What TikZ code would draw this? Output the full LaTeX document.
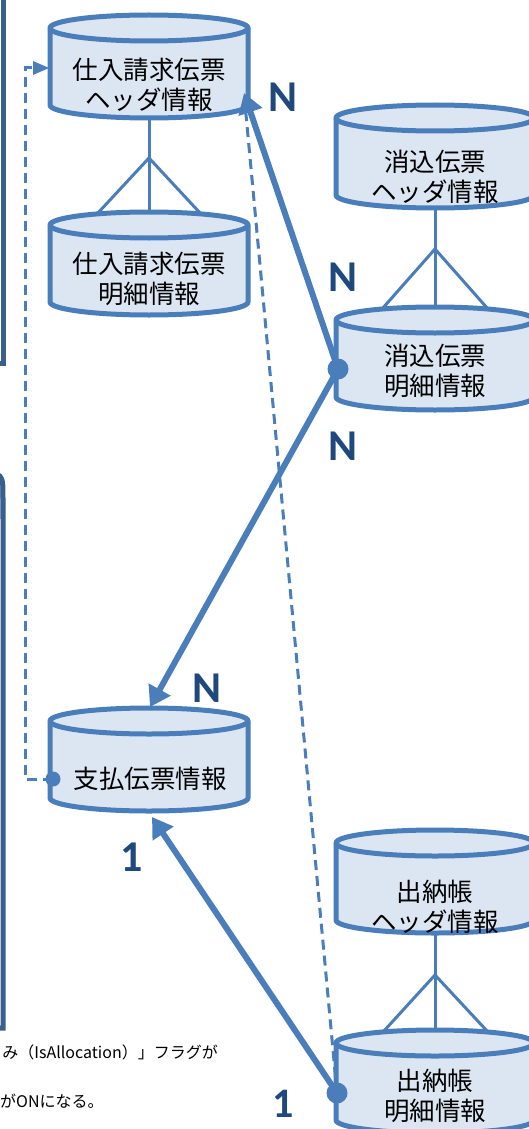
\documentclass[tikz,border=0pt]{standalone}
\usepackage{fontspec}
\newfontfamily\jp{Noto Sans CJK JP}
\newfontfamily\lab{Carlito}
\usetikzlibrary{arrows.meta}
\definecolor{cylblue}{HTML}{4A7EBB}
\definecolor{cylfill}{HTML}{DCE6F2}
\definecolor{labblue}{HTML}{1F497D}
\definecolor{frameblue}{HTML}{3A5F8E}
\definecolor{framefill}{HTML}{95B3D7}
\newcommand\drawcyl[2]{%
  \path[draw=cylblue, fill=cylfill, line width=5pt] (#1-99,#2+13) arc[start angle=180,end angle=360,x radius=99,y radius=13] -- (#1+99,#2+90) arc[start angle=0,end angle=180,x radius=99,y radius=13] -- cycle;
  \draw[cylblue, line width=5pt] (#1-99,#2+13) arc[start angle=180,end angle=0,x radius=99,y radius=13];
}
\tikzset{
  cyltext/.style={font=\jp\fontsize{25.5}{30.5}\selectfont, align=center, text=black, inner sep=0pt},
  crow/.style={draw=cylblue, line width=3pt},
  rel/.style={draw=cylblue, line width=6pt, -{Triangle[length=20pt,width=24pt]}},
  dashrel/.style={draw=cylblue, line width=3pt, dash pattern=on 10pt off 6pt},
  card/.style={font=\lab\bfseries\fontsize{44}{44}\selectfont, text=labblue, inner sep=0pt},
  note/.style={font=\jp\fontsize{16}{18}\selectfont, text=black, inner sep=0pt},
  framebox/.style={draw=frameblue, line width=5pt},
}
\begin{document}
\begin{tikzpicture}[x=1pt,y=-1pt]
\useasboundingbox (0,0) rectangle (529,1129);
\clip (0,0) rectangle (529,1129);

% left frames (partly visible)
\draw[framebox] (-20,363) -- (3,363) -- (3,-20);
\begin{scope}
  \clip (-40,460) rectangle (3,518);
  \fill[framefill] (-100,473) -- (-22,473) .. controls (3,473) .. (3,498) -- (3,600) -- (-100,600) -- cycle;
\end{scope}
\draw[framebox] (-100,473) -- (-22,473) .. controls (3,473) .. (3,498) -- (3,1028) -- (-100,1028);

% coordinates
\coordinate (c1b) at (149,118);
\coordinate (c2t) at (149,214);
\coordinate (cf1) at (149,158);
\coordinate (cf1l) at (97,214);
\coordinate (cf1r) at (201,214);
\coordinate (c3b) at (435,208);
\coordinate (c4t) at (435,309);
\coordinate (cf2) at (435,249);
\coordinate (cf2l) at (382,309);
\coordinate (cf2r) at (488,309);
\coordinate (c6b) at (435,933);
\coordinate (c7t) at (435,1032);
\coordinate (cf3) at (435,975);
\coordinate (cf3l) at (383,1032);
\coordinate (cf3r) at (488,1032);
\coordinate (dA) at (338,369);
\coordinate (dC) at (337,1093);
\coordinate (dE) at (53,779);
\coordinate (tA) at (244,93);
\coordinate (tB) at (150,707);
\coordinate (tC) at (152,817);
\coordinate (tE) at (49,68);
\coordinate (eE1) at (25,779);
\coordinate (eE2) at (25,68);

% dashed connectors
\draw[dashrel] (dC) -- (tA);
\draw[dashrel] (dE) -- (eE1) -- (eE2) -- ([xshift=-14pt]tE);
\fill[cylblue] (tE) -- ++(-16,-7) -- ++(0,14) -- cycle;

% crow's feet
\draw[crow] (c1b) -- (c2t);
\draw[crow] (cf1l) -- (cf1) -- (cf1r);
\draw[crow] (c3b) -- (c4t);
\draw[crow] (cf2l) -- (cf2) -- (cf2r);
\draw[crow] (c6b) -- (c7t);
\draw[crow] (cf3l) -- (cf3) -- (cf3r);

% cylinders
\drawcyl{149}{15}
\drawcyl{149}{212}
\drawcyl{435}{105}
\drawcyl{435}{307}
\drawcyl{149}{708}
\drawcyl{435}{830}
\drawcyl{435}{1030}

\node[cyltext] (h1) at (149,85) {仕入請求伝票\\ヘッダ情報};
\node[cyltext] (d1) at (149,279) {仕入請求伝票\\明細情報};
\node[cyltext] (h2) at (435,177) {消込伝票\\ヘッダ情報};
\node[cyltext] (d2) at (435,371) {消込伝票\\明細情報};
\node[cyltext] (pay) at (150,779) {支払伝票情報};
\node[cyltext] (h3) at (435,907) {出納帳\\ヘッダ情報};
\node[cyltext] (d3) at (435,1096) {出納帳\\明細情報};

% relationship arrows
\draw[rel] (dA) -- (tA);
\draw[rel] (dA) -- (tB);
\draw[rel] (dC) -- (tC);
\fill[cylblue] (dA) circle[radius=10.5pt];
\fill[cylblue] (dC) circle[radius=10.5pt];
\fill[cylblue] (dE) circle[radius=7.5pt];

% cardinalities
\node[card] (n1) at (283,97) {N};
\node[card] (n2) at (343,277) {N};
\node[card] (n3) at (343,446) {N};
\node[card] (n4) at (207,688) {N};
\node[card] (o1) at (132,857) {1};
\node[card, font=\lab\bfseries\fontsize{42}{42}\selectfont] (o2) at (283,1104) {1};

% notes
\node[note, anchor=east] (note1) at (218,1052) {み（IsAllocation）」フラグが};
\node[note, anchor=west] (note2) at (0,1101) {がONになる。};
\end{tikzpicture}
\end{document}
